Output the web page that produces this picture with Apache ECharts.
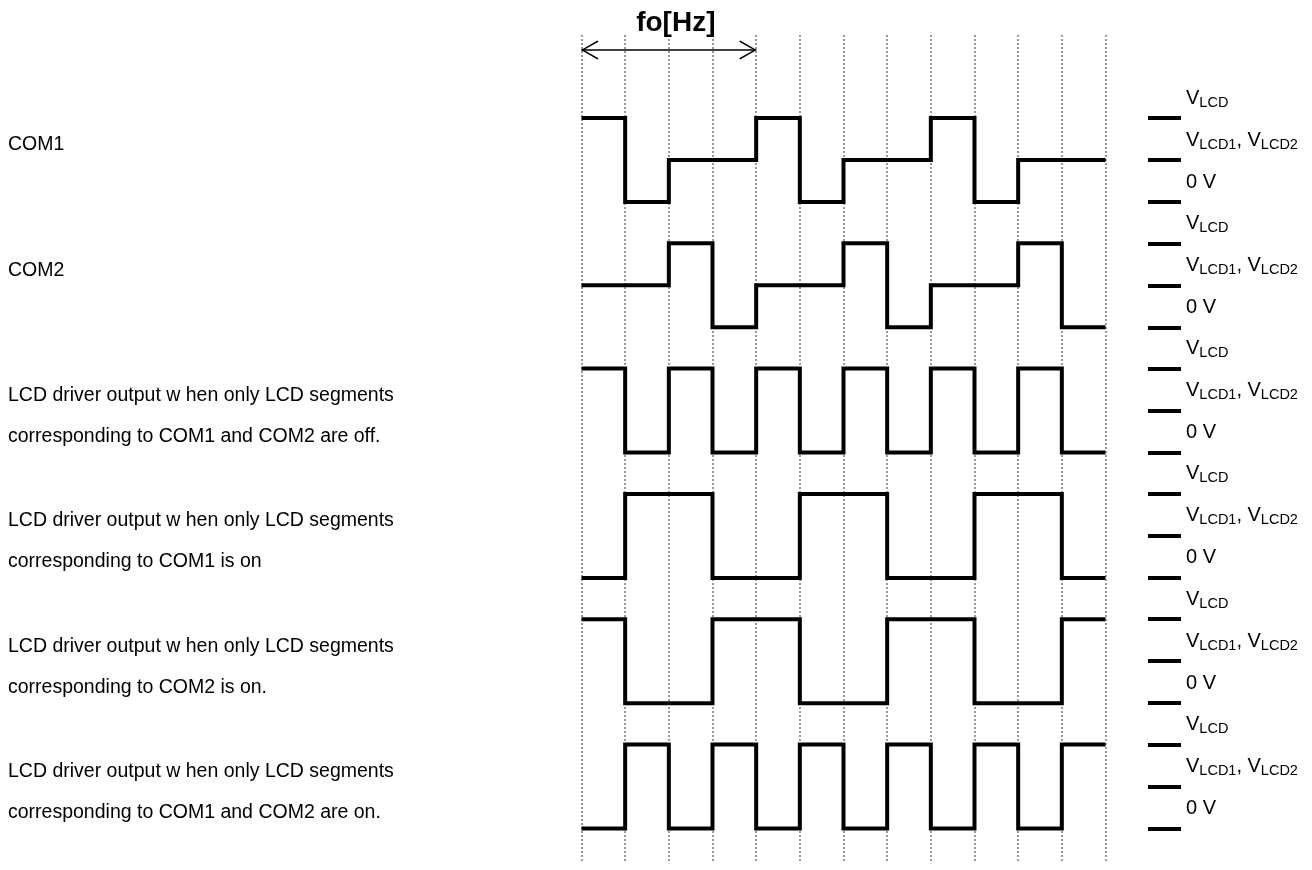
<!DOCTYPE html>
<html>
<head>
<meta charset="utf-8">
<title>LCD drive waveforms</title>
<script src="https://cdn.jsdelivr.net/npm/echarts@6/dist/echarts.min.js"></script>
<style>
  html, body { margin: 0; padding: 0; background: #fff; }
  #main { width: 1312px; height: 870px; }
</style>
</head>
<body>
<div id="main"></div>
<script>
// time slots (one per dotted grid interval)
const timeSlots = 12

// levels per slot: 0 = 0 V, 1 = VLCD1/VLCD2, 2 = VLCD
const com1 = [2, 0, 1, 1, 2, 0, 1, 1, 2, 0, 1, 1]
const com2 = [1, 1, 2, 0, 1, 1, 2, 0, 1, 1, 2, 0]
const segOff = [2, 0, 2, 0, 2, 0, 2, 0, 2, 0, 2, 0]
const segCom1On = [0, 2, 2, 0, 0, 2, 2, 0, 0, 2, 2, 0]
const segCom2On = [2, 0, 0, 2, 2, 0, 0, 2, 2, 0, 0, 2]
const segBothOn = [0, 2, 0, 2, 0, 2, 0, 2, 0, 2, 0, 2]

const waveforms = [com1, com2, segOff, segCom1On, segCom2On, segBothOn]

const rowLabels = [
  ['COM1'],
  ['COM2'],
  ['LCD driver output w hen only LCD segments', 'corresponding to COM1 and COM2 are off.'],
  ['LCD driver output w hen only LCD segments', 'corresponding to COM1 is on'],
  ['LCD driver output w hen only LCD segments', 'corresponding to COM2 is on.'],
  ['LCD driver output w hen only LCD segments', 'corresponding to COM1 and COM2 are on.'],
]

// right-hand level labels, index = level
const levelLabels = ['{b|0 V}', '{b|V}{s|LCD1}{b|, V}{s|LCD2}', '{b|V}{s|LCD}']

// frequency arrow spans these slots
const arrowSpan = [0, 4]
const arrowLabel = 'fo[Hz]'

const FONT = '"Liberation Sans", Arial, sans-serif'

// layout
const plotLeft = 581.5
const plotWidth = 524
const firstRowTop = 118
const rowPitch = 125.3
const rowHeight = 84
const rowTop = i => firstRowTop + i * rowPitch

const chart = echarts.init(document.getElementById('main'))

const grids = [{ left: plotLeft, top: 35, width: plotWidth, height: 827 }]
const xAxes = [{
  gridIndex: 0, type: 'value', min: 0, max: timeSlots, interval: 1,
  axisLine: { show: false }, axisTick: { show: false }, axisLabel: { show: false },
  splitLine: { show: true, lineStyle: { color: '#999', width: 2, type: [2, 2] } },
}]
const yAxes = [{ gridIndex: 0, type: 'value', min: 0, max: 827, inverse: true, show: false }]

// open chevron, tip at box centre so it sits on the line end
const chevron = 'path://M0,0 L8,14 L6.9,14.9 L0,2.4 L-6.9,14.9 L-8,14 Z M0,-14 L0.01,-14 L0,-13.99 Z'

const series = [{
  type: 'line',
  xAxisIndex: 0,
  yAxisIndex: 0,
  data: [],
  markLine: {
    silent: true,
    symbol: [chevron, chevron],
    symbolSize: [19, 34],
    lineStyle: { color: '#000', width: 1.5, type: 'solid' },
    label: {
      show: true,
      position: 'insideMiddleTop',
      distance: 13,
      padding: [0, 0, 0, 14],
      formatter: arrowLabel,
      color: '#000',
      fontSize: 28,
      fontWeight: 'bold',
      fontFamily: FONT,
    },
    data: [[{ coord: [arrowSpan[0], 15] }, { coord: [arrowSpan[1], 15] }]],
  },
}]

waveforms.forEach((levels, i) => {
  grids.push({ left: plotLeft, top: rowTop(i), width: plotWidth, height: rowHeight })
  xAxes.push({ gridIndex: i + 1, type: 'value', min: 0, max: timeSlots, show: false })
  yAxes.push({
    gridIndex: i + 1,
    type: 'value',
    min: 0,
    max: 2,
    interval: 1,
    position: 'right',
    offset: 42.5,
    axisLine: { show: false, onZero: false },
    axisTick: { show: true, length: 33, lineStyle: { color: '#000', width: 4 } },
    splitLine: { show: false },
    axisLabel: {
      margin: 38,
      verticalAlign: 'bottom',
      padding: [0, 0, 8, 0],
      formatter: v => levelLabels[v],
      rich: {
        b: { fontSize: 20, color: '#000', fontFamily: FONT, lineHeight: 24, verticalAlign: 'middle' },
        s: { fontSize: 14.5, color: '#000', fontFamily: FONT, lineHeight: 24, verticalAlign: 'bottom' },
      },
    },
  })
  const pts = levels.map((v, t) => [t, v])
  pts.push([timeSlots, levels[levels.length - 1]])
  series.push({
    type: 'line',
    xAxisIndex: i + 1,
    yAxisIndex: i + 1,
    step: 'end',
    symbol: 'none',
    clip: false,
    lineStyle: { color: '#000', width: 4, join: 'miter', cap: 'butt' },
    data: pts,
  })
})

chart.setOption({
  animation: false,
  backgroundColor: '#fff',
  title: rowLabels.map((lines, i) => ({
    text: lines.join('\n'),
    left: 8,
    top: rowTop(i) + 6.5,
    padding: 0,
    textStyle: { fontSize: 19.5, fontWeight: 'normal', color: '#000', lineHeight: 41, fontFamily: FONT },
  })),
  grid: grids,
  xAxis: xAxes,
  yAxis: yAxes,
  series: series,
})
</script>
</body>
</html>
